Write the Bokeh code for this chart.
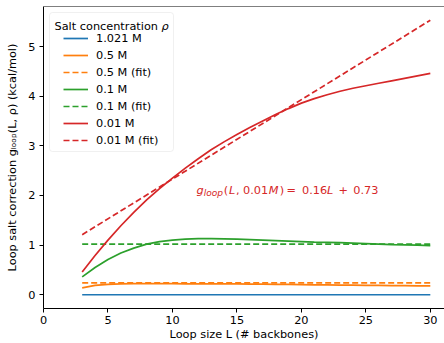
from bokeh.plotting import figure
from bokeh.models import (Legend, LegendItem, Label, BoxAnnotation, Span,
                          FixedTicker, Range1d)
from bokeh.embed import file_html
from bokeh.resources import INLINE

# ---------------- data ----------------
L = [3, 4, 5, 6, 7, 8, 9, 10, 11, 12, 13, 14, 15, 16,
     17, 18, 19, 20, 21, 22, 23, 24, 25, 26, 27, 28, 29, 30]
g_1021 = [0.0, 0.0, 0.0, 0.0, 0.0, 0.0, 0.0, 0.0, 0.0, 0.0, 0.0, 0.0, 0.0, 0.0,
          0.0, 0.0, 0.0, 0.0, 0.0, 0.0, 0.0, 0.0, 0.0, 0.0, 0.0, 0.0, 0.0, 0.0]
g_05 = [0.14, 0.19, 0.21, 0.22, 0.225, 0.225, 0.225, 0.225, 0.22, 0.22, 0.22, 0.22, 0.22, 0.215,
        0.215, 0.21, 0.21, 0.205, 0.20, 0.20, 0.195, 0.195, 0.19, 0.19, 0.185, 0.185, 0.18, 0.18]
g_01 = [0.36, 0.55, 0.71, 0.84, 0.94, 1.02, 1.07, 1.10, 1.12, 1.13, 1.13, 1.125, 1.12, 1.11,
        1.10, 1.09, 1.08, 1.07, 1.06, 1.055, 1.05, 1.04, 1.03, 1.02, 1.01, 1.005, 1.00, 0.99]
g_001 = [0.46, 0.79, 1.10, 1.39, 1.66, 1.91, 2.14, 2.35, 2.55, 2.74, 2.92, 3.08, 3.23, 3.37,
         3.50, 3.63, 3.75, 3.86, 3.95, 4.03, 4.10, 4.16, 4.21, 4.26, 4.31, 4.36, 4.41, 4.46]
fit_L = [3, 30]
fit_05 = [0.24, 0.24]
fit_01 = [1.02, 1.02]
fit_001 = [1.21, 5.53]

series_labels = ["1.021 M", "0.5 M", "0.5 M (fit)", "0.1 M", "0.1 M (fit)", "0.01 M", "0.01 M (fit)"]
x_ticks = [0, 5, 10, 15, 20, 25, 30]
y_ticks = [0, 1, 2, 3, 4, 5]
x_label = "Loop size L (# backbones)"
y_label = "Loop salt correction g\u2097\u2092\u2092\u209a(L, \u03c1) (kcal/mol)"

# ---------------- layout ----------------
W, H = 444, 343
FL, FT, FB = 43, 6, 35
X0, X1 = 0.0, 31.1
Y0, Y1 = -0.2765, 5.8065
FW = W - FL
FH = H - FT - FB
FONT = "DejaVu Sans"
FS = "11.3px"

def dx(cx):
    return X0 + (cx - FL) / FW * (X1 - X0)

def dy(cy):
    return Y1 - (cy - FT) / FH * (Y1 - Y0)

ADV = {' ': 651, '(': 799, ')': 799, ',': 651, '.': 651, '/': 690, '#': 1716,
       '=': 1716, '+': 1716, '0': 1303, '1': 1303, '3': 1303, '6': 1303, '7': 1303,
       'L': 1141, 'M': 1767, 'S': 1300, 'a': 1255, 'b': 1300, 'c': 1126, 'e': 1260,
       'f': 721, 'g': 1300, 'i': 569, 'k': 1186, 'l': 569, 'm': 1995, 'n': 1298,
       'o': 1253, 'p': 1300, 'r': 842, 's': 1067, 't': 803, 'z': 1075, 'ρ': 1300}

def tw(s, size):
    return sum(ADV.get(c, 1200) for c in s) / 2048.0 * size

blue, orange, green, red = "#1f77b4", "#ff7f0e", "#2ca02c", "#d62728"

p = figure(width=W, height=H, x_range=Range1d(X0, X1), y_range=Range1d(Y0, Y1),
           output_backend="svg", toolbar_location=None, title=None,
           min_border_left=FL, min_border_right=0, min_border_top=FT, min_border_bottom=FB)
p.outline_line_color = None
p.xgrid.visible = False
p.ygrid.visible = False
p.background_fill_color = "white"
p.border_fill_color = "white"

for ax, ticks, standoff in ((p.xaxis, x_ticks, 3), (p.yaxis, y_ticks, 4)):
    ax.ticker = FixedTicker(ticks=ticks)
    ax.major_label_text_font = FONT
    ax.major_label_text_font_size = FS
    ax.major_label_text_color = "black"
    ax.major_tick_out = 4
    ax.major_tick_in = 0
    ax.minor_tick_line_color = None
    ax.axis_line_color = "black"
    ax.major_tick_line_color = "black"
    ax.major_label_standoff = standoff
    ax.axis_label_text_font = FONT
    ax.axis_label_text_font_size = FS
    ax.axis_label_text_font_style = "normal"
    ax.axis_label_text_color = "black"

p.xaxis.axis_label = x_label
p.xaxis.axis_label_standoff = 1
p.yaxis.axis_label = y_label
p.yaxis.axis_label_standoff = 6

p.add_layout(Span(location=Y1, dimension="width", line_color="black", line_width=1))

LW = 1.7
DASH = "6 3"
r1 = p.line(L, g_1021, line_color=blue, line_width=LW)
r2 = p.line(L, g_05, line_color=orange, line_width=LW)
r3 = p.line(fit_L, fit_05, line_color=orange, line_width=LW, line_dash=DASH)
r4 = p.line(L, g_01, line_color=green, line_width=LW)
r5 = p.line(fit_L, fit_01, line_color=green, line_width=LW, line_dash=DASH)
r6 = p.line(L, g_001, line_color=red, line_width=LW)
r7 = p.line(fit_L, fit_001, line_color=red, line_width=LW, line_dash=DASH)

def txt(text, cx, cy, size=11.3, style="normal", color="black", angle=0.0):
    p.add_layout(Label(x=dx(cx), y=dy(cy), text=text, text_font=FONT,
                       text_font_size=f"{size}px", text_font_style=style,
                       text_color=color, angle=angle, text_align="left",
                       text_baseline="alphabetic"))

# legend frame + title
p.add_layout(BoxAnnotation(left=dx(49), right=dx(173), top=dy(12), bottom=dy(151),
                           fill_color="white", fill_alpha=0.8, line_color="#cccccc",
                           line_width=1, border_radius=3))
legend = Legend(items=[LegendItem(label=lab, renderers=[r])
                       for lab, r in zip(series_labels, [r1, r2, r3, r4, r5, r6, r7])],
                location=(20, 160), padding=0, spacing=1, margin=0,
                glyph_width=25, glyph_height=16, label_height=16, label_standoff=8,
                label_text_font=FONT, label_text_font_size=FS, label_text_color="black",
                border_line_color=None, background_fill_alpha=0)
p.add_layout(legend)
t0 = "Salt concentration "
txt(t0, 54, 25.5)
txt("ρ", 54 + tw(t0, 11.3), 25.5, style="italic")

# annotation
ann = [("g", 196, 11.3, "italic", 0), ("loop", 203.3, 9.0, "italic", 2.5),
       ("(", 223.3, 11.3, "normal", 0), ("L", 228.5, 11.3, "italic", 0),
       (",", 235.6, 11.3, "normal", 0), ("0.01", 242.5, 11.3, "normal", 0),
       ("M", 268.2, 11.3, "italic", 0), (")", 279.2, 11.3, "normal", 0),
       ("=", 286.0, 11.3, "normal", 0), ("0.16", 301.5, 11.3, "normal", 0),
       ("L", 326.5, 11.3, "italic", 0), ("+", 338.0, 11.3, "normal", 0),
       ("0.73", 352.8, 11.3, "normal", 0)]
for t, cx, sz, st, off in ann:
    txt(t, cx, 189.5 + off, size=sz, style=st, color=red)

open("out.html", "w").write(file_html(p, INLINE))
